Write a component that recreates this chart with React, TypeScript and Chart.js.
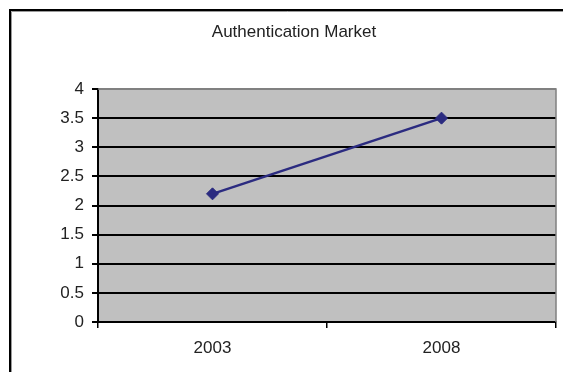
import React, { useEffect, useRef } from "react";
import { Chart, registerables } from "chart.js";

Chart.register(...registerables);

const categories = ["2003", "2008"];
const marketValues = [2.2, 3.5];
const yTickMin = 0;
const yTickMax = 4;
const yTickStep = 0.5;
const chartTitle = "Authentication Market";

const framePlugin = {
  id: "framePlugin",
  beforeDraw(chart: any) {
    const { ctx, chartArea, width, height } = chart;
    ctx.save();
    ctx.fillStyle = "#ffffff";
    ctx.fillRect(0, 0, width, height);
    ctx.strokeStyle = "#000000";
    ctx.lineWidth = 2;
    ctx.beginPath();
    ctx.moveTo(10, height);
    ctx.lineTo(10, 10);
    ctx.lineTo(width, 10);
    ctx.stroke();
    ctx.strokeStyle = "#9a9a9a";
    ctx.lineWidth = 1;
    ctx.beginPath();
    ctx.moveTo(11.5, height);
    ctx.lineTo(11.5, 11.5);
    ctx.lineTo(width, 11.5);
    ctx.stroke();
    ctx.fillStyle = "#c0c0c0";
    ctx.fillRect(chartArea.left, chartArea.top, chartArea.right - chartArea.left, chartArea.bottom - chartArea.top);
    ctx.restore();
  },
  beforeDatasetsDraw(chart: any) {
    const { ctx, chartArea } = chart;
    ctx.save();
    ctx.strokeStyle = "#808080";
    ctx.lineWidth = 1.5;
    ctx.beginPath();
    ctx.moveTo(chartArea.left, chartArea.top);
    ctx.lineTo(chartArea.right, chartArea.top);
    ctx.lineTo(chartArea.right, chartArea.bottom);
    ctx.stroke();
    ctx.restore();
  },
};

const FONT = "Liberation Sans, Arial, sans-serif";

export default function App() {
  const ref = useRef<HTMLCanvasElement>(null);
  useEffect(() => {
    const canvas = ref.current!;
    const chart = new Chart(canvas, {
      type: "line",
      data: {
        labels: categories,
        datasets: [
          {
            label: "Authentication Market",
            data: marketValues,
            borderColor: "#2b2b80",
            backgroundColor: "#2b2b80",
            borderWidth: 2.5,
            pointStyle: "rectRot",
            pointRadius: 6,
            pointBorderWidth: 1,
            tension: 0,
          },
        ],
      },
      options: {
        animation: false,
        responsive: false,
        devicePixelRatio: 1,
        layout: { padding: { left: 31, right: 6, top: 0, bottom: 0 } },
        plugins: {
          legend: { display: false },
          tooltip: { enabled: false },
          title: {
            display: true,
            text: chartTitle,
            color: "#222222",
            font: { family: FONT, size: 17, weight: "normal" },
            padding: { top: 22, bottom: 46.6 },
          },
        },
        scales: {
          x: {
            type: "category",
            offset: true,
            grid: {
              offset: true,
              drawOnChartArea: false,
              drawTicks: true,
              tickLength: 6,
              color: "#000000",
              lineWidth: 1.5,
            },
            border: { display: true, color: "#000000", width: 2 },
            ticks: {
              color: "#222222",
              padding: 10,
              font: { family: FONT, size: 17 },
            },
            afterFit: (s: any) => {
              s.height = 50;
            },
          },
          y: {
            min: yTickMin,
            max: yTickMax,
            ticks: {
              stepSize: yTickStep,
              color: "#222222",
              padding: 8,
              font: { family: FONT, size: 17 },
              callback: (v: any) => String(Number(v)),
            },
            grid: {
              color: (c: any) => (c.tick && c.tick.value === yTickMax ? "#808080" : "#000000"),
              lineWidth: 2,
              tickLength: 6,
              tickColor: "#000000",
            },
            border: { display: true, color: "#000000", width: 2 },
            afterFit: (s: any) => {
              s.width = 67;
            },
          },
        },
      },
      plugins: [framePlugin],
    } as any);
    return () => chart.destroy();
  }, []);
  return (
    <div style={{ position: "fixed", left: 0, top: 0, width: 563, height: 372, background: "#fff" }}>
      <canvas ref={ref} width={563} height={372} style={{ display: "block", width: 563, height: 372 }} />
    </div>
  );
}
